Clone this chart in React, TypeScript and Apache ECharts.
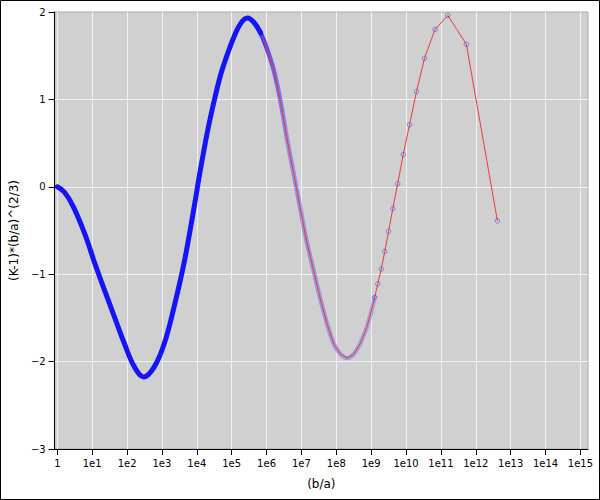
import React, { useEffect, useRef } from 'react';
import * as echarts from 'echarts';

// log10(b/a) positions
const logRatio = [
  0.0, 0.2, 0.45, 0.78, 1.07, 1.35, 1.64, 1.92, 2.21, 2.48, 2.78, 3.07, 3.35, 3.64, 3.92,
  4.07, 4.3, 4.49, 4.69, 4.88, 5.07, 5.26, 5.45, 5.64, 5.83, 6.02, 6.21, 6.4, 6.6, 6.85,
  7.02, 7.16, 7.35, 7.54, 7.73, 7.92, 8.11, 8.31, 8.49, 8.69, 8.88, 9.02,
  9.1, 9.19, 9.29, 9.39, 9.5, 9.62, 9.76, 9.92, 10.1, 10.3, 10.53, 10.83, 11.2, 11.73, 12.62,
];
// (K-1)*(b/a)^(2/3) values
const kValue = [
  0.0, -0.06, -0.22, -0.53, -0.87, -1.18, -1.49, -1.79, -2.06, -2.175, -2.06, -1.79, -1.37, -0.86, -0.24,
  0.12, 0.62, 0.97, 1.29, 1.52, 1.72, 1.87, 1.93, 1.88, 1.76, 1.57, 1.33, 0.98, 0.52, 0.0,
  -0.36, -0.64, -0.96, -1.28, -1.56, -1.79, -1.91, -1.96, -1.92, -1.79, -1.6, -1.4,
  -1.265, -1.11, -0.94, -0.74, -0.51, -0.25, 0.035, 0.37, 0.71, 1.09, 1.47, 1.8, 1.96, 1.63, -0.39,
];
const decadeTicks = [0, 1, 2, 3, 4, 5, 6, 7, 8, 9, 10, 11, 12, 13, 14, 15];
const xTitle = '(b/a)';
const yTitle = '(K-1)*(b/a)^(2/3)';

export default function App() {
  const ref = useRef<HTMLDivElement>(null);
  useEffect(() => {
    const chart = echarts.init(ref.current!, null, { renderer: 'svg' });
    const pts = logRatio.map((x, i) => [x, kValue[i]]);
    const solid = pts.filter((p) => p[0] <= 5.83);
    const faint = pts.filter((p) => p[0] >= 5.64 && p[0] <= 9.1);
    const font = 'DejaVu Sans';
    chart.setOption({
      animation: false,
      backgroundColor: '#ffffff',
      textStyle: { fontFamily: font },
      grid: {
        left: 53, right: 12, top: 12, bottom: 51, show: true,
        backgroundColor: '#d0d0d0', borderColor: '#a8a8a8', borderWidth: 1,
      },
      xAxis: {
        type: 'value', min: -0.077, max: 15.218,
        axisLine: { onZero: false, lineStyle: { color: '#000', width: 1 } },
        axisTick: { customValues: decadeTicks, length: 6, lineStyle: { color: '#000' } },
        axisLabel: {
          customValues: decadeTicks, color: '#000', fontSize: 10, margin: 9, fontFamily: font,
          formatter: (v: number) => (Math.round(v) === 0 ? '1' : '1e' + Math.round(v)),
        },
        splitLine: { show: true, lineStyle: { color: '#f0f0f0', width: 1 } },
        name: xTitle, nameLocation: 'middle', nameGap: 29,
        nameTextStyle: { fontSize: 12, color: '#000', fontFamily: font },
      },
      yAxis: {
        type: 'value', min: -3, max: 2, interval: 1,
        axisLine: { onZero: false, lineStyle: { color: '#000', width: 1 } },
        axisTick: { length: 6, lineStyle: { color: '#000' } },
        axisLabel: {
          color: '#000', fontSize: 10, margin: 9, fontFamily: font,
          formatter: (v: number) => (v < 0 ? '\u2212' + Math.abs(v) : String(v)),
        },
        splitLine: { show: true, showMaxLine: false, showMinLine: false, lineStyle: { color: '#f0f0f0', width: 1 } },
        name: yTitle, nameLocation: 'middle', nameGap: 31,
        nameTextStyle: { fontSize: 12, color: '#000', fontFamily: font },
      },
      graphic: [
        {
          type: 'rect', silent: true, z: 100,
          shape: { x: 0.5, y: 0.5, width: 599, height: 499 },
          style: { fill: 'none', stroke: '#000', lineWidth: 1 },
        },
      ],
      series: [
        {
          type: 'line', data: faint, z: 1, smooth: 0.4, symbol: 'none',
          lineStyle: {
            width: 4.5, cap: 'round',
            color: {
              type: 'linear', x: 0, y: 0, x2: 1, y2: 0,
              colorStops: [
                { offset: 0, color: 'rgba(20,20,250,1)' },
                { offset: 0.12, color: 'rgba(50,50,250,0.8)' },
                { offset: 0.28, color: 'rgba(80,80,250,0.5)' },
                { offset: 1, color: 'rgba(100,100,245,0.4)' },
              ],
            },
          },
        },
        {
          type: 'line', data: pts, z: 2, smooth: false,
          symbol: 'circle',
          symbolSize: (v: number[]) => (v[0] >= 9.05 ? 4.5 : 0),
          lineStyle: { color: '#f03838', width: 1 },
          itemStyle: { color: 'rgba(0,0,0,0)', borderColor: 'rgba(70,70,255,0.6)', borderWidth: 1 },
        },
        {
          type: 'line', data: solid, z: 3, smooth: 0.4, symbol: 'none',
          lineStyle: { color: '#1414f5', width: 5, cap: 'round' },
        },
      ],
    });
    return () => chart.dispose();
  }, []);
  return (
    <div style={{ position: 'fixed', left: 0, top: 0, width: 600, height: 500, background: '#fff' }}>
      <div ref={ref} style={{ width: 600, height: 500 }} />
    </div>
  );
}
